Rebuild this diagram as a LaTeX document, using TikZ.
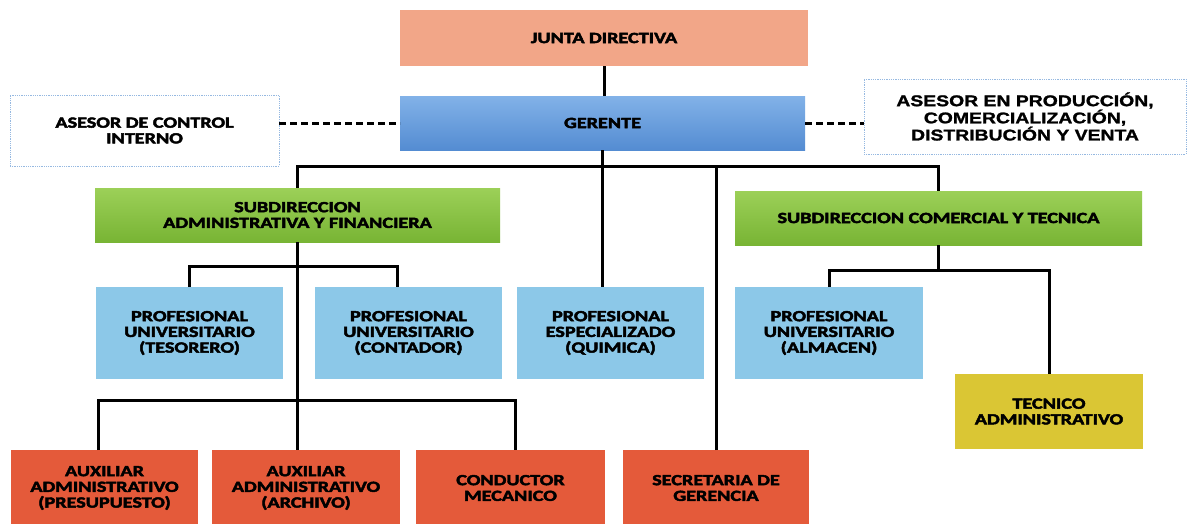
\documentclass[tikz,border=0pt]{standalone}
\usepackage{fontspec}
\usetikzlibrary{shadings}
\newfontfamily\calfont[FakeStretch=1.3,FakeBold=3]{Carlito}
\newfontfamily\arifont[FakeStretch=1.25,FakeBold=1.5]{Liberation Sans}
\definecolor{junta}{RGB}{242,166,136}
\definecolor{gerT}{RGB}{130,178,232}
\definecolor{gerB}{RGB}{84,140,210}
\definecolor{grT}{RGB}{156,208,88}
\definecolor{grB}{RGB}{120,180,52}
\definecolor{lblue}{RGB}{140,200,232}
\definecolor{rojo}{RGB}{228,90,58}
\definecolor{amar}{RGB}{218,198,52}
\definecolor{dotb}{RGB}{150,185,225}
\tikzset{
  bx/.style 2 args={inner sep=0pt, outer sep=0pt, anchor=north west, align=center,
    minimum width=#1, minimum height=#2,
    font=\calfont\bfseries\fontsize{15.5}{15.7}\selectfont},
  conn/.style={draw=black, line width=3pt},
  dashline/.style={draw=black, line width=3pt, dash pattern=on 7pt off 4pt},
  asesor/.style={fill=white, draw=dotb, line width=0.8pt, densely dotted}
}
\begin{document}
\begin{tikzpicture}[x=1pt,y=-1pt]
\path[clip] (0,0) rectangle (1190,523);
\fill[white] (0,0) rectangle (1190,523);
% nodes
\node[bx={408pt}{56pt}, fill=junta] (junta) at (400,10) {JUNTA DIRECTIVA};
\node[bx={405pt}{54pt}, top color=gerT, bottom color=gerB] (gerente) at (400,96) {GERENTE};
\node[bx={269pt}{71pt}, asesor] (ctrl) at (10,95) {};
\node[font=\calfont\bfseries\fontsize{15.5}{15.7}\selectfont, align=center] (ctrltxt) at (ctrl.center) {ASESOR DE CONTROL\\INTERNO};
\node[bx={322pt}{75pt}, asesor] (prod) at (864,79) {};
\node[font=\arifont\bfseries\fontsize{15.5}{15}\selectfont, align=center] (prodtxt) at (prod.center) {ASESOR EN PRODUCCIÓN,\\COMERCIALIZACIÓN,\\DISTRIBUCIÓN Y VENTA};
\node[bx={405pt}{54pt}, top color=grT, bottom color=grB] (admin) at (95,188) {SUBDIRECCION\\ADMINISTRATIVA Y FINANCIERA};
\node[bx={407pt}{54pt}, top color=grT, bottom color=grB] (comercial) at (735,191) {SUBDIRECCION COMERCIAL Y TECNICA};
\node[bx={187pt}{92pt}, fill=lblue] (tesorero) at (96,287) {PROFESIONAL\\UNIVERSITARIO\\(TESORERO)};
\node[bx={187pt}{92pt}, fill=lblue] (contador) at (315,287) {PROFESIONAL\\UNIVERSITARIO\\(CONTADOR)};
\node[bx={187pt}{92pt}, fill=lblue] (quimica) at (517,287) {PROFESIONAL\\ESPECIALIZADO\\(QUIMICA)};
\node[bx={188pt}{92pt}, fill=lblue] (almacen) at (735,287) {PROFESIONAL\\UNIVERSITARIO\\(ALMACEN)};
\node[bx={188pt}{75pt}, fill=amar] (tecnico) at (955,374) {TECNICO\\ADMINISTRATIVO};
\node[bx={187pt}{76pt}, fill=rojo] (presupuesto) at (11,450) {AUXILIAR\\ADMINISTRATIVO\\(PRESUPUESTO)};
\node[bx={188pt}{76pt}, fill=rojo] (archivo) at (212,450) {AUXILIAR\\ADMINISTRATIVO\\(ARCHIVO)};
\node[bx={189pt}{76pt}, fill=rojo] (conductor) at (416,450) {CONDUCTOR\\MECANICO};
\node[bx={186pt}{76pt}, fill=rojo] (secretaria) at (623,450) {SECRETARIA DE\\GERENCIA};
% bus coordinates
\coordinate (busA) at (0,166);
\coordinate (busB) at (0,266);
\coordinate (busC) at (0,400);
\coordinate (busD) at (0,270);
% connectors
\draw[conn] (junta.south) -- (junta.south |- gerente.north);
\draw[conn] (gerente.south) -- (gerente.south |- quimica.north);
\draw[conn] (admin.north) -- (admin.north |- busA) -- (comercial.north |- busA) -- (comercial.north);
\draw[conn] (secretaria.north) -- (secretaria.north |- busA);
\draw[conn] (admin.south) -- (admin.south |- archivo.north);
\draw[conn] (tesorero.north) -- (tesorero.north |- busB) -- ([xshift=-11pt]contador.north |- busB) -- ([xshift=-11pt]contador.north);
\draw[conn] ([xshift=-6pt]presupuesto.north) -- ([xshift=-6pt]presupuesto.north |- busC) -- ([xshift=5pt]conductor.north |- busC) -- ([xshift=5pt]conductor.north);
\draw[conn] (comercial.south) -- (comercial.south |- busD);
\draw[conn] (almacen.north) -- (almacen.north |- busD) -- (tecnico.north |- busD) -- (tecnico.north);
\draw[dashline] (ctrl.east |- gerente.west) -- (gerente.west);
\draw[dashline] (gerente.east) -- (gerente.east -| prod.west);
\end{tikzpicture}
\end{document}
